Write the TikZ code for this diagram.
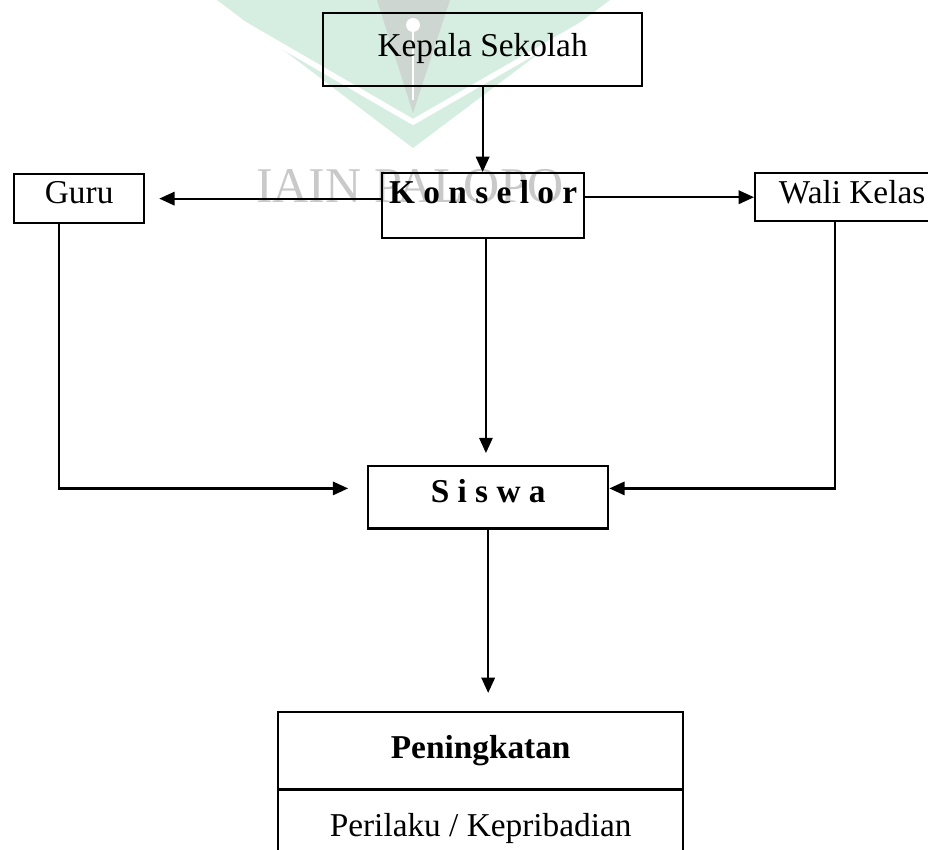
\documentclass[tikz,border=0pt]{standalone}
\usepackage{fontspec}
\setmainfont{Liberation Serif}
\definecolor{WMgreen}{HTML}{D6EEE1}
\definecolor{WMgray}{HTML}{CDD6D1}
\definecolor{WMtext}{HTML}{C9C9C9}
\usetikzlibrary{arrows.meta, positioning, calc}

\begin{document}
\begin{tikzpicture}[x=0.36pt, y=-0.36pt,
      box/.style={draw, line width=0.85pt, rectangle, anchor=north west,
         inner xsep=0pt, inner ysep=0pt, font=\fontsize{12}{14}\selectfont},
      arr/.style={line width=0.8pt, -{Triangle[length=5.5pt, width=4.8pt]}}]
      \useasboundingbox (0,0) rectangle (928,849);
      % Watermark
      \fill[WMgreen] (217,0) -- (413,148) -- (610,0) -- cycle;
      \draw[white, line width=2pt] (237,20) -- (413,122) -- (590,20);
      \fill[WMgray] (377,0) -- (450,0) -- (413,113) -- cycle;
      \fill[white] (413,25) circle (2.5pt);
      \draw[white, line width=0.8pt] (413,30) -- (413,100);
      \node[text=WMtext, font=\fontsize{18}{18}\selectfont, anchor=base] (wmark) at (410,202) {IAIN PALOPO};
      % Boxes
      \node[box, minimum width=114.8pt, text height=15.5pt, text depth=10.8pt] (kepala) at (322,12) {Kepala Sekolah};
      \node[box, minimum width=72.7pt, text height=10.8pt, text depth=12.6pt] (konselor) at (381,172) {\textbf{K o n s e l o r}};
      \node[box, minimum width=46.8pt, text height=10.4pt, text depth=7.2pt] (guru) at (13,173) {Guru};
      \node[box, minimum width=69.8pt, text height=10.8pt, text depth=6.5pt] (wali) at (754,172) {Wali Kelas};
      \node[box, minimum width=86.4pt, text height=13pt, text depth=9.4pt] (siswa) at (367,465) {\textbf{S i s w a}};
      \node[box, minimum width=145.8pt, text height=16.6pt, text depth=11.2pt] (peningkatan) at (277,711) {\textbf{Peningkatan}};
      \node[box, minimum width=145.8pt, text height=16.9pt, text depth=12.6pt] (perilaku) at (277,788) {Perilaku / Kepribadian};
      % Arrows
      \draw[arr] (kepala.south) -- (kepala.south |- konselor.north);
      \draw[arr] (konselor.west |- guru.east) -- ([xshift=5pt]guru.east);
      \draw[arr] (konselor.east |- wali.west) -- (wali.west);
      \draw[arr, shorten >=4.3pt] ([xshift=1pt]konselor.south) -- ([xshift=1pt]konselor.south |- siswa.north);
      \draw[arr, shorten >=6.8pt] ([xshift=-7.2pt]guru.south) |- ([yshift=3.2pt]siswa.west);
      \draw[arr] ([xshift=-6.1pt]wali.south) |- ([yshift=3.2pt]siswa.east);
      \draw[arr, shorten >=6.5pt] (siswa.south) -- (siswa.south |- peningkatan.north);
   \end{tikzpicture}
\end{document}
